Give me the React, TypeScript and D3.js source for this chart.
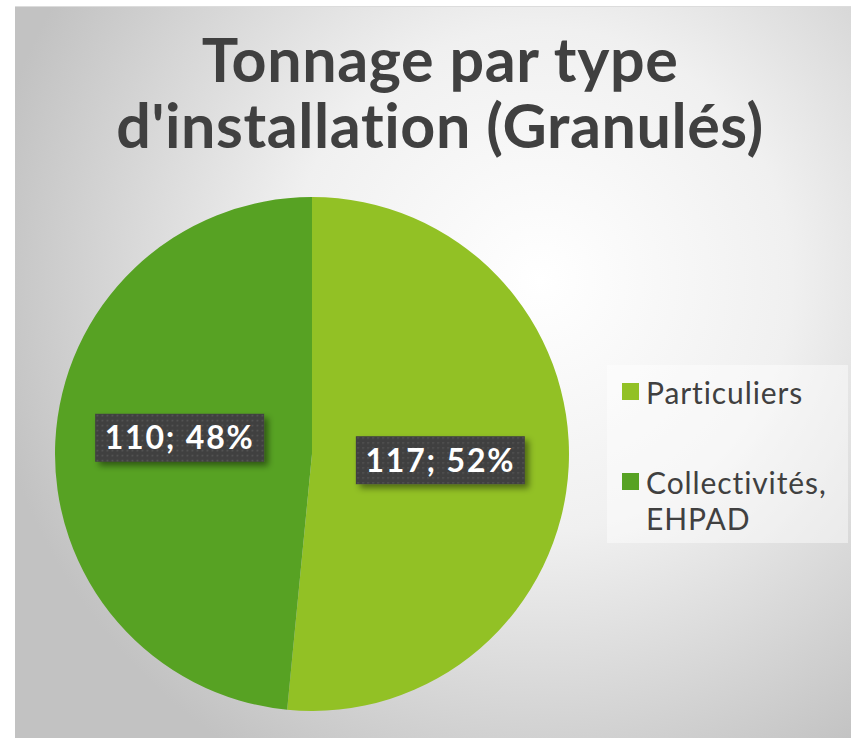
import React, { useEffect, useRef } from 'react';
import * as d3 from 'd3';

const categories = ['Particuliers', 'Collectivités, EHPAD'];
const tonnage = [117, 110];
const percentLabels = ['52%', '48%'];
const sliceColors = ['#92c125', '#57a223'];
const titleLines = ['Tonnage par type', "d'installation (Granulés)"];

const W = 851;
const H = 738;

const App: React.FC = () => {
  const svgRef = useRef<SVGSVGElement | null>(null);

  useEffect(() => {
    if (!svgRef.current) return;
    const svg = d3.select(svgRef.current);
    svg.selectAll('*').remove();

    const font = 'Lato, "Open Sans", sans-serif';
    const defs = svg.append('defs');

    // background radial gradient
    const grad = defs.append('radialGradient')
      .attr('id', 'bg')
      .attr('gradientUnits', 'userSpaceOnUse')
      .attr('cx', 540).attr('cy', 280).attr('r', 560);
    grad.append('stop').attr('offset', '0%').attr('stop-color', '#ffffff');
    grad.append('stop').attr('offset', '45%').attr('stop-color', '#f0f0f0');
    grad.append('stop').attr('offset', '100%').attr('stop-color', '#c2c2c2');

    // dotted pattern for label boxes
    const pat = defs.append('pattern')
      .attr('id', 'dots')
      .attr('patternUnits', 'userSpaceOnUse')
      .attr('width', 5).attr('height', 5);
    pat.append('rect').attr('width', 5).attr('height', 5).attr('fill', '#404040');
    pat.append('rect').attr('x', 2).attr('y', 2).attr('width', 1.5).attr('height', 1.5).attr('fill', '#595959');

    const shadow = defs.append('filter').attr('id', 'shadow')
      .attr('x', '-20%').attr('y', '-30%').attr('width', '150%').attr('height', '180%');
    shadow.append('feDropShadow')
      .attr('dx', 4).attr('dy', 4).attr('stdDeviation', 3)
      .attr('flood-color', '#000').attr('flood-opacity', 0.45);

    svg.append('rect')
      .attr('x', 15).attr('y', 6)
      .attr('width', W - 15).attr('height', H - 6)
      .attr('fill', 'url(#bg)');
    svg.append('line')
      .attr('x1', 15).attr('x2', W).attr('y1', 6.5).attr('y2', 6.5)
      .attr('stroke', '#dcdcdc').attr('stroke-width', 1);

    // title
    svg.append('g').selectAll('text')
      .data(titleLines)
      .enter()
      .append('text')
      .attr('x', 440)
      .attr('y', (d, i) => 82 + i * 66)
      .attr('text-anchor', 'middle')
      .style('font-family', font)
      .style('font-weight', 'bold')
      .style('font-size', '61px')
      .style('letter-spacing', '0.6px')
      .style('font-variant-ligatures', 'none')
      .attr('fill', '#404040')
      .text(d => d);

    // pie
    const cx = 312, cy = 454, r = 257;
    const data = categories.map((c, i) => ({ name: c, value: tonnage[i], pct: percentLabels[i], color: sliceColors[i] }));
    const pie = d3.pie<any>().sort(null).value(d => d.value);
    const arc = d3.arc<any>().innerRadius(0).outerRadius(r);
    const arcs = pie(data);

    const g = svg.append('g').attr('transform', `translate(${cx},${cy})`);
    g.selectAll('path')
      .data(arcs)
      .enter()
      .append('path')
      .attr('d', arc)
      .attr('fill', d => d.data.color);

    // data labels (second one sits a little higher, like the original)
    const nudge = [[0, 0], [-4, -10]];
    const boxW = 169, boxH = 48;
    const labelG = g.selectAll('g.lbl')
      .data(arcs)
      .enter()
      .append('g')
      .attr('class', 'lbl')
      .attr('transform', (d, i) => {
        const [x, y] = arc.centroid(d);
        return `translate(${x + nudge[i][0]},${y + nudge[i][1]})`;
      });
    labelG.append('rect')
      .attr('x', -boxW / 2).attr('y', -boxH / 2)
      .attr('width', boxW).attr('height', boxH)
      .attr('fill', 'url(#dots)')
      .attr('filter', 'url(#shadow)');
    labelG.append('text')
      .attr('text-anchor', 'middle')
      .attr('dy', '0.36em')
      .style('font-family', font)
      .style('font-weight', 'bold')
      .style('font-size', '32px')
      .style('letter-spacing', '1.8px')
      .attr('fill', '#ffffff')
      .text(d => `${d.data.value}; ${d.data.pct}`);

    // legend
    const legend = svg.append('g');
    legend.append('rect')
      .attr('x', 607).attr('y', 365)
      .attr('width', 241).attr('height', 178)
      .attr('fill', '#ffffff').attr('opacity', 0.45);
    const items = legend.selectAll('g.item')
      .data(data)
      .enter()
      .append('g')
      .attr('class', 'item')
      .attr('transform', (d, i) => `translate(622,${383 + i * 90})`);
    items.append('rect')
      .attr('width', 17).attr('height', 17)
      .attr('fill', d => d.color);
    items.append('text')
      .style('font-family', font)
      .style('font-size', '30px')
      .style('letter-spacing', '0.9px')
      .attr('fill', '#404040')
      .selectAll('tspan')
      .data(d => d.name.replace(', ', ',|').split('|'))
      .enter()
      .append('tspan')
      .attr('x', 24)
      .attr('y', (d, i) => 21 + i * 36)
      .text(d => d);
  }, []);

  return (
    <svg ref={svgRef} width={W} height={H} style={{ position: 'absolute', left: 0, top: 0 }} />
  );
};

export default App;
